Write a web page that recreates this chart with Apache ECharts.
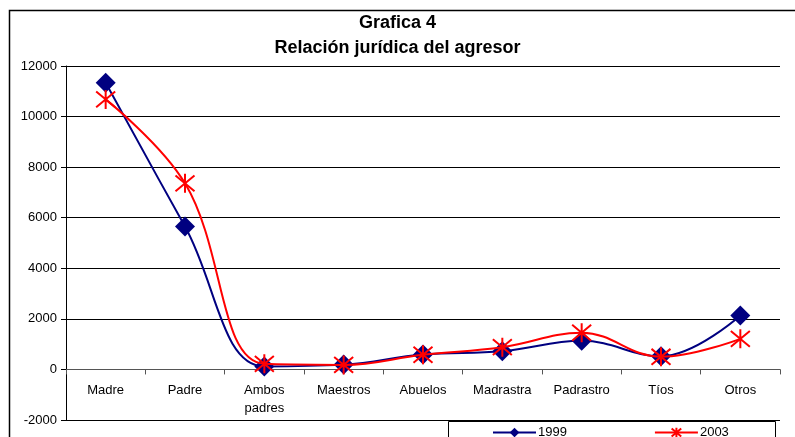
<!DOCTYPE html>
<html><head><meta charset="utf-8">
<script src="https://cdn.jsdelivr.net/npm/echarts@6/dist/echarts.min.js"></script>
<style>html,body{margin:0;padding:0;background:#fff}#c{width:795px;height:437px}</style>
</head><body><div id="c"></div>
<script>
var categories = ['Madre','Padre','Ambos\npadres','Maestros','Abuelos','Madrastra','Padrastro','Tíos','Otros'];
var values1999 = [11340, 5650, 120, 190, 590, 720, 1130, 520, 2130];
var values2003 = [10680, 7360, 220, 180, 580, 880, 1450, 500, 1210];
var yTicks = {min: -2000, max: 12000, step: 2000};
var seriesNames = ['1999','2003'];

var chart = echarts.init(document.getElementById('c'));
var font = 'Arial, "Liberation Sans", sans-serif';
var star = 'path://M0,0 L10,10 M10,0 L0,10 M5,-1 L5,11';
chart.setOption({
  animation: false,
  textStyle: {fontFamily: font},
  title: {
    text: 'Grafica 4\nRelación jurídica del agresor',
    left: 'center', top: 6,
    textStyle: {fontFamily: font, fontSize: 18, fontWeight: 'bold', color: '#000', lineHeight: 25}
  },
  graphic: [
    {type: 'rect', left: 7, top: 8, shape: {width: 800, height: 440}, style: {fill: 'none', stroke: '#000', lineWidth: 1.5}, z: -1},
    {type: 'rect', left: 448, top: 421, shape: {width: 327, height: 30}, style: {fill: '#fff', stroke: '#000', lineWidth: 1}, z: 5}
  ],
  legend: {
    left: 492, top: 426, padding: 0, itemWidth: 43, itemHeight: 12, itemGap: 87, z: 10,
    textStyle: {fontFamily: font, fontSize: 13, color: '#000', padding: [0,0,0,-3]},
    data: seriesNames
  },
  grid: {left: 66, right: 15, top: 66, bottom: 17, outerBoundsMode: 'none', containLabel: false},
  xAxis: {
    type: 'category', data: categories, boundaryGap: true,
    axisLine: {onZero: true, lineStyle: {color: '#555', width: 1}},
    axisTick: {show: true, interval: 0, length: 5, lineStyle: {color: '#555'}},
    axisLabel: {interval: 0, margin: -39, fontSize: 13, color: '#000', fontFamily: font, lineHeight: 18, verticalAlign: 'top'},
    splitLine: {show: false}
  },
  yAxis: {
    type: 'value', min: yTicks.min, max: yTicks.max, interval: yTicks.step,
    axisLine: {show: true, lineStyle: {color: '#000', width: 1}},
    axisTick: {show: true, length: 5, lineStyle: {color: '#000'}},
    axisLabel: {fontSize: 13, color: '#000', fontFamily: font, margin: 9, formatter: function (v) { return String(v); }},
    splitLine: {show: true, lineStyle: {color: '#000', width: 1}}
  },
  series: [
    {
      name: seriesNames[0], type: 'line', data: values1999, smooth: 0.4,
      symbol: 'diamond', symbolSize: 20,
      itemStyle: {color: '#000080'}, lineStyle: {color: '#000080', width: 2}, z: 3
    },
    {
      name: seriesNames[1], type: 'line', data: values2003, smooth: 0.4,
      symbol: star, symbolSize: 19,
      itemStyle: {color: '#FF0000', borderColor: '#FF0000', borderWidth: 2},
      lineStyle: {color: '#FF0000', width: 2}, z: 4
    }
  ]
});
</script></body></html>
